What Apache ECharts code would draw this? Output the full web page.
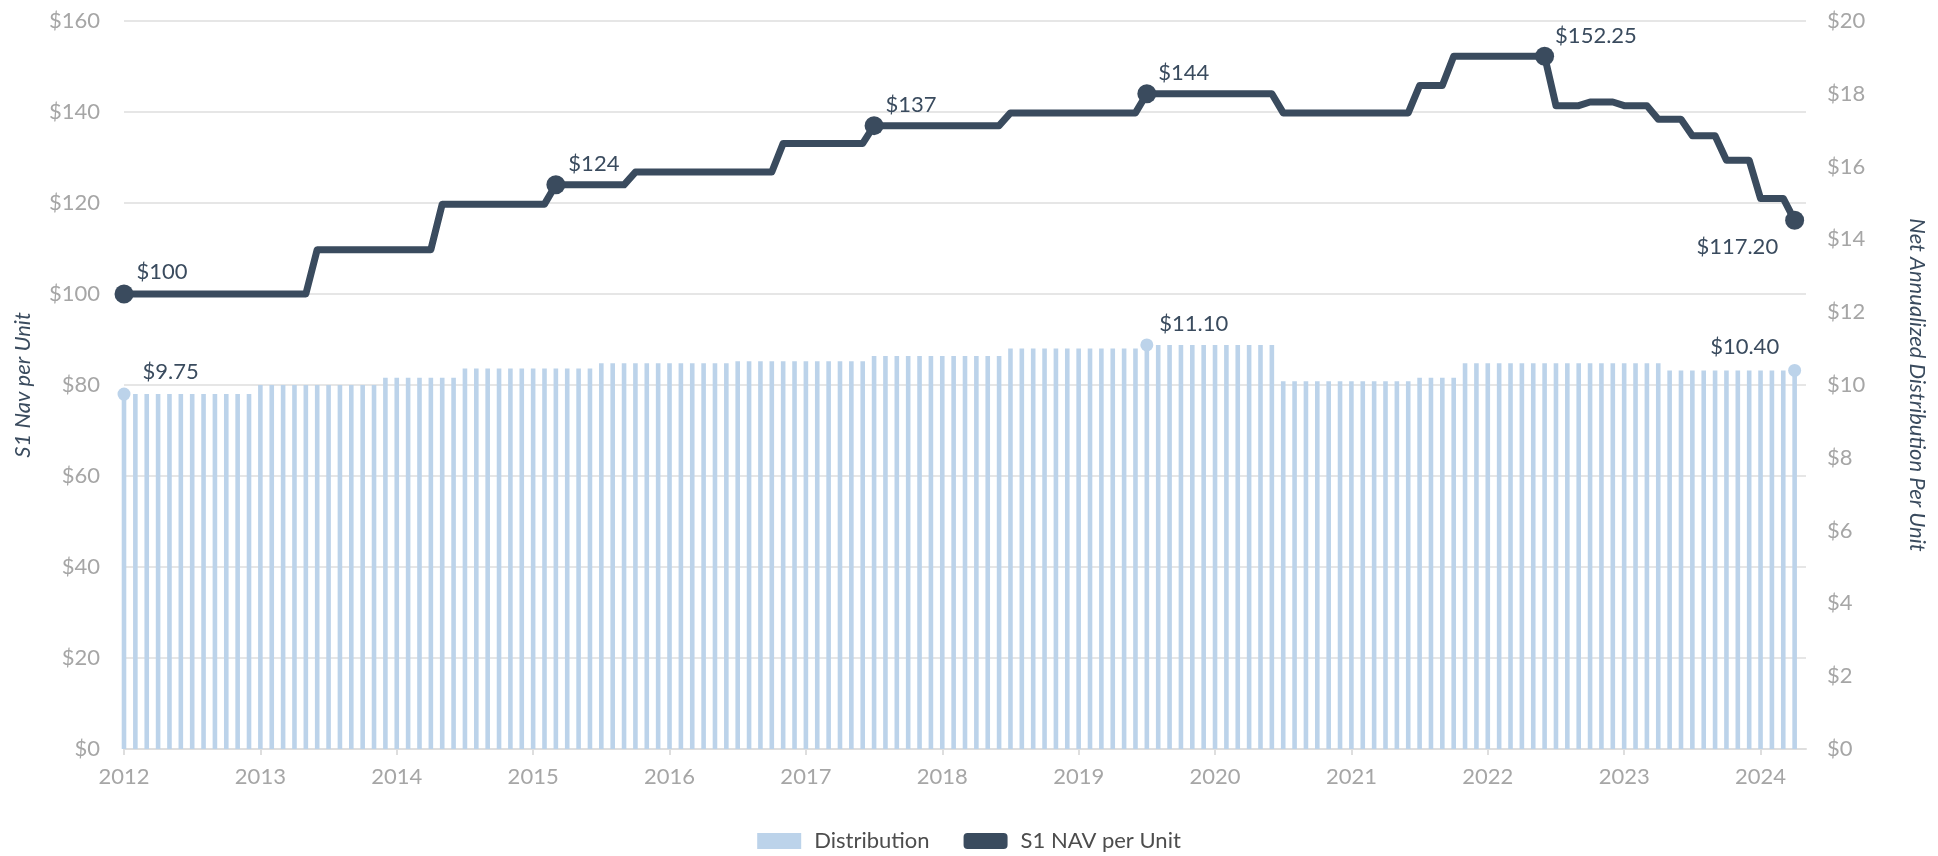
<!DOCTYPE html>
<html>
<head>
<meta charset="utf-8">
<script src="https://cdn.jsdelivr.net/npm/echarts@6/dist/echarts.min.js"></script>
<style>
  html, body { margin: 0; padding: 0; background: #ffffff; }
  #chart { width: 1938px; height: 856px; }
</style>
</head>
<body>
<div id="chart"></div>
<script>
// ---- DATA ----
// Monthly categories Jan 2012 .. May 2024 (axis runs one month past the last value)
const months = [];
for (let y = 2012; y <= 2024; y++) {
  for (let m = 1; m <= 12; m++) {
    if (y === 2024 && m > 5) break;
    months.push(y + '-' + (m < 10 ? '0' + m : '' + m));
  }
}
const yearLabels = ['2012','2013','2014','2015','2016','2017','2018','2019','2020','2021','2022','2023','2024'];

// Net annualized distribution per unit (right axis), one value per month
const distribution = [
  9.75, 9.75, 9.75, 9.75, 9.75, 9.75, 9.75, 9.75, 9.75, 9.75, 9.75, 9.75,           // 2012
  10.00, 10.00, 10.00, 10.00, 10.00, 10.00, 10.00, 10.00, 10.00, 10.00, 10.00, 10.20, // 2013
  10.20, 10.20, 10.20, 10.20, 10.20, 10.20, 10.45, 10.45, 10.45, 10.45, 10.45, 10.45, // 2014
  10.45, 10.45, 10.45, 10.45, 10.45, 10.45, 10.60, 10.60, 10.60, 10.60, 10.60, 10.60, // 2015
  10.60, 10.60, 10.60, 10.60, 10.60, 10.60, 10.65, 10.65, 10.65, 10.65, 10.65, 10.65, // 2016
  10.65, 10.65, 10.65, 10.65, 10.65, 10.65, 10.80, 10.80, 10.80, 10.80, 10.80, 10.80, // 2017
  10.80, 10.80, 10.80, 10.80, 10.80, 10.80, 11.00, 11.00, 11.00, 11.00, 11.00, 11.00, // 2018
  11.00, 11.00, 11.00, 11.00, 11.00, 11.00, 11.10, 11.10, 11.10, 11.10, 11.10, 11.10, // 2019
  11.10, 11.10, 11.10, 11.10, 11.10, 11.10, 10.10, 10.10, 10.10, 10.10, 10.10, 10.10, // 2020
  10.10, 10.10, 10.10, 10.10, 10.10, 10.10, 10.20, 10.20, 10.20, 10.20, 10.60, 10.60, // 2021
  10.60, 10.60, 10.60, 10.60, 10.60, 10.60, 10.60, 10.60, 10.60, 10.60, 10.60, 10.60, // 2022
  10.60, 10.60, 10.60, 10.60, 10.40, 10.40, 10.40, 10.40, 10.40, 10.40, 10.40, 10.40, // 2023
  10.40, 10.40, 10.40, 10.40                                                          // 2024
];

// S1 NAV per unit (left axis), one value per month
const nav = [
  100, 100, 100, 100, 100, 100, 100, 100, 100, 100, 100, 100,                         // 2012
  100, 100, 100, 100, 100, 109.75, 109.75, 109.75, 109.75, 109.75, 109.75, 109.75,    // 2013
  109.75, 109.75, 109.75, 109.75, 119.75, 119.75, 119.75, 119.75, 119.75, 119.75, 119.75, 119.75, // 2014
  119.75, 119.75, 124, 124, 124, 124, 124, 124, 124, 126.8, 126.8, 126.8,             // 2015
  126.8, 126.8, 126.8, 126.8, 126.8, 126.8, 126.8, 126.8, 126.8, 126.8, 133.1, 133.1, // 2016
  133.1, 133.1, 133.1, 133.1, 133.1, 133.1, 137, 137, 137, 137, 137, 137,             // 2017
  137, 137, 137, 137, 137, 137, 139.8, 139.8, 139.8, 139.8, 139.8, 139.8,             // 2018
  139.8, 139.8, 139.8, 139.8, 139.8, 139.8, 144, 144, 144, 144, 144, 144,             // 2019
  144, 144, 144, 144, 144, 144, 139.8, 139.8, 139.8, 139.8, 139.8, 139.8,             // 2020
  139.8, 139.8, 139.8, 139.8, 139.8, 139.8, 145.8, 145.8, 145.8, 152.25, 152.25, 152.25, // 2021
  152.25, 152.25, 152.25, 152.25, 152.25, 152.25, 141.4, 141.4, 141.4, 142.2, 142.2, 142.2, // 2022
  141.4, 141.4, 141.4, 138.4, 138.4, 138.4, 134.8, 134.8, 134.8, 129.4, 129.4, 129.4, // 2023
  121, 121, 121, 116.2                                                                // 2024
];

// Highlighted points (month index) and their label texts
const navMarkIndex = [0, 38, 66, 90, 125, 147];
const navMarkText  = ['$100', '$124', '$137', '$144', '$152.25', '$117.20'];
const distMarkIndex = [0, 90, 147];
const distMarkText  = ['$9.75', '$11.10', '$10.40'];

// ---- STYLE ----
const DARK = '#3a4b5e';
const BLUE = '#bcd3ea';
const GRID = '#dedede';
const AXISTXT = '#a6a6a6';
const FONT = 'Lato';
const FS = 22;

const navLabelLayout = {
  '$100':    { position: 'right', offset: [-2, -22], align: 'left' },
  '$124':    { position: 'right', offset: [-2, -21], align: 'left' },
  '$137':    { position: 'right', offset: [-3, -21], align: 'left' },
  '$144':    { position: 'right', offset: [-3, -21], align: 'left' },
  '$152.25': { position: 'right', offset: [-4, -20], align: 'left' },
  '$117.20': { position: 'left',  offset: [-2, 27],  align: 'right' }
};
const distLabelLayout = {
  '$9.75':  { position: 'right', offset: [7, -22], align: 'left' },
  '$11.10': { position: 'right', offset: [1, -21], align: 'left' },
  '$10.40': { position: 'left',  offset: [-4, -24], align: 'right' }
};

const navDots = navMarkIndex.map((idx, k) => ({
  value: [months[idx], nav[idx]],
  label: Object.assign({ show: true, formatter: navMarkText[k] }, navLabelLayout[navMarkText[k]])
}));
const distDots = distMarkIndex.map((idx, k) => ({
  value: [months[idx], distribution[idx]],
  label: Object.assign({ show: true, formatter: distMarkText[k] }, distLabelLayout[distMarkText[k]])
}));

const chart = echarts.init(document.getElementById('chart'), null, { renderer: 'canvas' });
chart.setOption({
  animation: false,
  backgroundColor: '#ffffff',
  textStyle: { fontFamily: FONT },
  grid: { left: 124, right: 132, top: 21, bottom: 107, containLabel: false },
  legend: {
    top: 825,
    left: 'center',
    itemGap: 34,
    itemWidth: 44,
    itemHeight: 16,
    textStyle: { fontSize: FS, color: '#4d4d4d', fontFamily: FONT, padding: [0, 0, 0, 8] },
    data: [
      { name: 'Distribution', icon: 'rect', itemStyle: { color: BLUE } },
      { name: 'S1 NAV per Unit', icon: 'roundRect', itemStyle: { color: DARK } }
    ]
  },
  xAxis: {
    type: 'category',
    data: months,
    boundaryGap: false,
    axisLine: { show: true, lineStyle: { color: GRID, width: 2 } },
    axisTick: { show: true, interval: (i) => i % 12 === 0, length: 6, lineStyle: { color: GRID, width: 2 } },
    axisLabel: {
      interval: (i) => i % 12 === 0,
      formatter: (v, i) => yearLabels[Math.round(i / 12)],
      color: AXISTXT, fontSize: FS, margin: 17, fontFamily: FONT
    },
    splitLine: { show: false }
  },
  yAxis: [
    {
      type: 'value', position: 'left', min: 0, max: 160, interval: 20,
      name: 'S1 Nav per Unit', nameLocation: 'middle', nameGap: 90, nameRotate: 90,
      nameTextStyle: { fontStyle: 'italic', fontSize: FS, color: DARK, fontFamily: FONT },
      axisLabel: { formatter: '${value}', color: AXISTXT, fontSize: FS, margin: 24, fontFamily: FONT },
      axisLine: { show: false }, axisTick: { show: false },
      splitLine: { show: true, lineStyle: { color: GRID, width: 1.5 } }
    },
    {
      type: 'value', position: 'right', min: 0, max: 20, interval: 2,
      name: 'Net Annualized Distribution Per Unit', nameLocation: 'middle', nameGap: 100, nameRotate: -90,
      nameTextStyle: { fontStyle: 'italic', fontSize: FS, color: DARK, fontFamily: FONT },
      axisLabel: { formatter: '${value}', color: AXISTXT, fontSize: FS, margin: 21, fontFamily: FONT },
      axisLine: { show: false }, axisTick: { show: false },
      splitLine: { show: false }
    }
  ],
  series: [
    {
      name: 'Distribution', type: 'bar', yAxisIndex: 1, data: distribution,
      barWidth: 4.6, itemStyle: { color: BLUE }, z: 2
    },
    {
      name: 'distDots', type: 'scatter', yAxisIndex: 1, data: distDots,
      symbol: 'circle', symbolSize: 13, itemStyle: { color: BLUE, opacity: 1 }, z: 3,
      label: { color: DARK, fontSize: FS, fontFamily: FONT }
    },
    {
      name: 'S1 NAV per Unit', type: 'line', yAxisIndex: 0, data: nav,
      showSymbol: false, symbol: 'none',
      lineStyle: { color: DARK, width: 7, cap: 'round', join: 'round' },
      itemStyle: { color: DARK }, z: 4
    },
    {
      name: 'navDots', type: 'scatter', yAxisIndex: 0, data: navDots,
      symbol: 'circle', symbolSize: 19, itemStyle: { color: DARK, opacity: 1 }, z: 5,
      label: { color: DARK, fontSize: FS, fontFamily: FONT }
    }
  ]
});
</script>
</body>
</html>
